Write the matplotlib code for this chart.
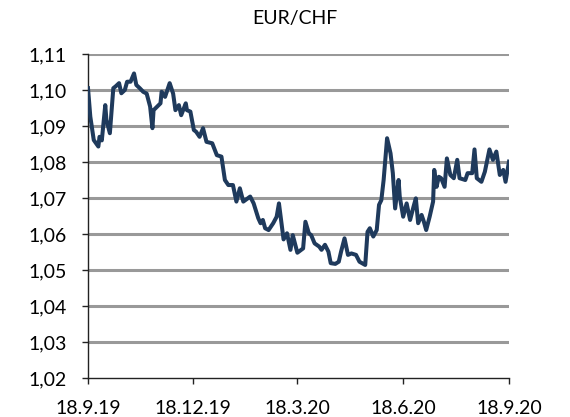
import datetime as dt
import matplotlib
matplotlib.use("Agg")
import matplotlib.pyplot as plt
from matplotlib.ticker import FuncFormatter

# EUR/CHF, days after 18.9.2019 and rate
start = dt.date(2019, 9, 18)
day_offsets = [
    0, 2, 5, 9, 10, 12, 15, 16, 19, 22, 24, 27, 29, 32, 34, 37, 40, 42, 45, 48,
    51, 54, 56, 57, 63, 64, 67, 71, 74, 76, 79, 81, 85, 86, 89, 92, 94, 97, 100, 103,
    108, 112, 116, 119, 122, 126, 129, 132, 135, 141, 144, 148, 150, 152, 154, 157, 161, 164, 166, 170,
    173, 176, 178, 182, 187, 189, 192, 194, 197, 201, 203, 206, 209, 211, 215, 218, 220, 223, 226, 229,
    233, 236, 241, 243, 245, 248, 251, 253, 255, 257, 260, 263, 265, 267, 270, 271, 274, 277, 280, 283,
    285, 287, 290, 292, 294, 297, 300, 301, 303, 305, 307, 310, 312, 315, 318, 321, 323, 328, 330, 334,
    336, 338, 342, 345, 349, 352, 355, 358, 361, 363, 366,
]
rates = [
    1.1005, 1.0926, 1.0861, 1.0843, 1.0870, 1.0860, 1.0958, 1.0917, 1.0880, 1.1005,
    1.1010, 1.1019, 1.0991, 1.1000, 1.1023, 1.1023, 1.1046, 1.1014, 1.1005, 1.0995,
    1.0990, 1.0954, 1.0894, 1.0944, 1.0963, 1.0995, 1.0981, 1.1019, 1.0990, 1.0944,
    1.0958, 1.0930, 1.0963, 1.0944, 1.0940, 1.0889, 1.0884, 1.0870, 1.0894, 1.0856,
    1.0852, 1.0819, 1.0815, 1.0750, 1.0736, 1.0736, 1.0690, 1.0727, 1.0690, 1.0704,
    1.0685, 1.0644, 1.0630, 1.0639, 1.0616, 1.0611, 1.0630, 1.0648, 1.0685, 1.0585,
    1.0602, 1.0556, 1.0597, 1.0548, 1.0560, 1.0634, 1.0602, 1.0597, 1.0574, 1.0565,
    1.0556, 1.0570, 1.0551, 1.0519, 1.0517, 1.0523, 1.0551, 1.0588, 1.0542, 1.0546,
    1.0542, 1.0523, 1.0514, 1.0606, 1.0616, 1.0593, 1.0611, 1.0681, 1.0694, 1.0750,
    1.0866, 1.0824, 1.0769, 1.0671, 1.0750, 1.0704, 1.0648, 1.0685, 1.0639, 1.0676,
    1.0699, 1.0630, 1.0653, 1.0634, 1.0611, 1.0648, 1.0690, 1.0778, 1.0731, 1.0759,
    1.0755, 1.0731, 1.0810, 1.0764, 1.0755, 1.0806, 1.0755, 1.0750, 1.0769, 1.0769,
    1.0835, 1.0755, 1.0745, 1.0773, 1.0835, 1.0806, 1.0829, 1.0764, 1.0778, 1.0745,
    1.0801,
]
tick_dates = [dt.date(2019, 9, 18), dt.date(2019, 12, 18), dt.date(2020, 3, 18),
              dt.date(2020, 6, 18), dt.date(2020, 9, 18)]
y_ticks = [1.02, 1.03, 1.04, 1.05, 1.06, 1.07, 1.08, 1.09, 1.10, 1.11]

dates = [start + dt.timedelta(days=d) for d in day_offsets]

plt.rcParams["font.family"] = ["Lato", "DejaVu Sans"]

fig = plt.figure(figsize=(5.7, 4.17), dpi=100)
ax = fig.add_axes([0.1544, 0.0935, 0.7386, 0.777])

# horizontal grid, none on the bottom axis line
for y in y_ticks[1:]:
    ax.axhline(y, color="#999999", lw=2.2, zorder=1)
ax.plot(dates, rates, color="#1f3a5c", lw=2.9, solid_joinstyle="round", zorder=3)

ax.set_ylim(1.02, 1.11)
ax.set_xlim(tick_dates[0], tick_dates[-1])
ax.set_yticks(y_ticks)
ax.yaxis.set_major_formatter(FuncFormatter(lambda v, p: f"{v:.2f}".replace(".", ",")))
ax.set_xticks(tick_dates)
ax.set_xticklabels([f"{d.day}.{d.month}.{d.year % 100}" for d in tick_dates])

for s in ("top", "right"):
    ax.spines[s].set_visible(False)
for s in ("left", "bottom"):
    ax.spines[s].set_linewidth(1.0)
    ax.spines[s].set_color("#222222")
ax.tick_params(axis="both", direction="out", length=4.5, width=1, colors="#222222",
               labelsize=14, labelcolor="black")
ax.tick_params(axis="x", pad=11)
ax.tick_params(axis="y", pad=11)

fig.text(0.5175, 0.955, "EUR/CHF", ha="center", va="center", fontsize=14)

fig.savefig("out.png", dpi=100)
